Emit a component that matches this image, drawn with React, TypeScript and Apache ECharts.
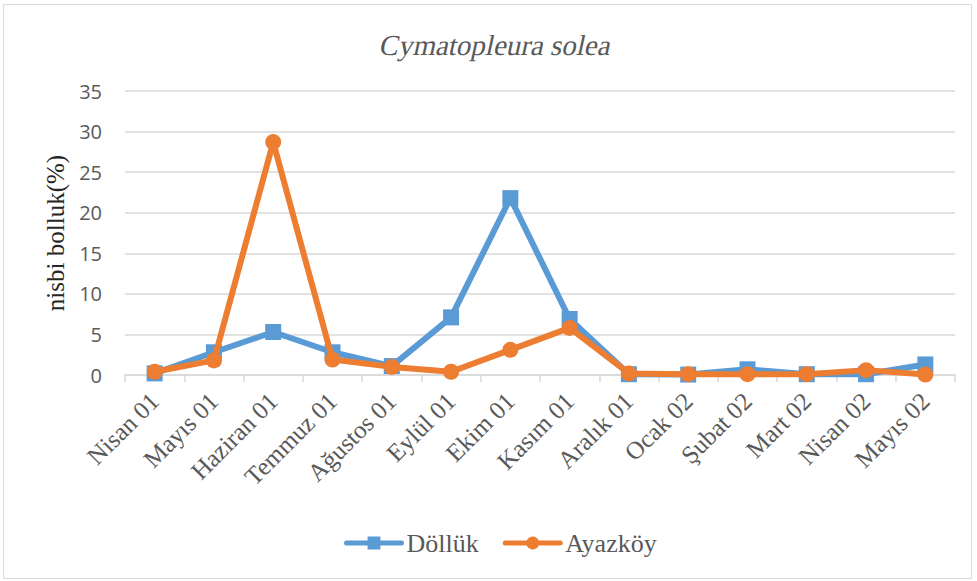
import React, { useEffect, useRef } from "react";
import * as echarts from "echarts";

const categories = [
  "Nisan 01", "Mayıs 01", "Haziran 01", "Temmuz 01", "Ağustos 01", "Eylül 01", "Ekim 01",
  "Kasım 01", "Aralık 01", "Ocak 02", "Şubat 02", "Mart 02", "Nisan 02", "Mayıs 02",
];
const dollukValues = [0.2, 2.8, 5.3, 2.8, 1.1, 7.1, 21.8, 6.9, 0.1, 0.05, 0.7, 0.1, 0.1, 1.3];
const ayazkoyValues = [0.4, 1.8, 28.7, 1.9, 1.0, 0.4, 3.1, 5.8, 0.2, 0.1, 0.1, 0.1, 0.6, 0.05];
const seriesNames = ["Döllük", "Ayazköy"];
const chartTitle = "Cymatopleura solea";
const yTicks = { min: 0, max: 35, interval: 5 };

// decompose an italic shear into rotation * scale * rotation (zrender has no skew in graphic)
function shearParts(k: number) {
  const m00 = 1, m01 = -k, m10 = 0, m11 = 1;
  const E = (m00 + m11) / 2, F = (m00 - m11) / 2, G = (m10 + m01) / 2, H = (m10 - m01) / 2;
  const Q = Math.sqrt(E * E + H * H), R = Math.sqrt(F * F + G * G);
  const a1 = Math.atan2(G, F), a2 = Math.atan2(H, E);
  const theta = (a2 - a1) / 2, phi = (a2 + a1) / 2;
  return { sx: Q + R, sy: Q - R, outerRot: -phi, innerRot: -theta };
}

export default function App() {
  const ref = useRef<HTMLDivElement>(null);
  useEffect(() => {
    document.body.style.margin = "0";
    const chart = echarts.init(ref.current!, null, { renderer: "svg" });
    const serif = "Liberation Serif, serif";
    const sh = shearParts(0.22);
    chart.setOption({
      animation: false,
      backgroundColor: "#ffffff",
      graphic: [
        {
          type: "rect",
          shape: { x: 3.5, y: 4.5, width: 968, height: 574 },
          style: { fill: "none", stroke: "#d9d9d9", lineWidth: 1 },
          silent: true,
        },
        {
          type: "group",
          x: 496,
          y: 45,
          rotation: sh.outerRot,
          scaleX: sh.sx,
          scaleY: sh.sy,
          silent: true,
          children: [
            {
              type: "text",
              x: 0,
              y: 0,
              rotation: sh.innerRot,
              style: {
                text: chartTitle,
                fontFamily: serif,
                fontSize: 29,
                fill: "#595959",
                align: "center",
                verticalAlign: "middle",
              },
              silent: true,
            },
          ],
        },
      ],
      legend: {
        top: 525,
        left: 339,
        itemWidth: 55,
        itemHeight: 16,
        itemGap: 24,
        lineStyle: { width: 5, cap: "round" },
        textStyle: { fontFamily: serif, fontSize: 26, color: "#595959" },
        data: seriesNames,
      },
      grid: { left: 125, right: 22, top: 91, bottom: 206, containLabel: false },
      xAxis: {
        type: "category",
        data: categories,
        boundaryGap: true,
        axisLine: { lineStyle: { color: "#d9d9d9", width: 1.5 } },
        axisTick: { show: true, length: 7, lineStyle: { color: "#d9d9d9", width: 1.5 } },
        axisLabel: {
          rotate: 45,
          interval: 0,
          margin: 22,
          fontFamily: serif,
          fontSize: 25,
          color: "#595959",
        },
      },
      yAxis: {
        type: "value",
        min: yTicks.min,
        max: yTicks.max,
        interval: yTicks.interval,
        name: "nisbi bolluk(%)",
        nameLocation: "middle",
        nameGap: 54,
        nameTextStyle: { fontFamily: serif, fontSize: 25, color: "#262626" },
        axisLine: { show: false },
        axisTick: { show: false },
        axisLabel: { fontFamily: "Open Sans, sans-serif", fontSize: 20, color: "#595959", margin: 23 },
        splitLine: { lineStyle: { color: "#d9d9d9", width: 1.5 } },
      },
      series: [
        {
          name: seriesNames[0],
          type: "line",
          data: dollukValues,
          symbol: "rect",
          symbolSize: 16,
          lineStyle: { width: 6, color: "#5B9BD5" },
          itemStyle: { color: "#5B9BD5" },
          z: 2,
        },
        {
          name: seriesNames[1],
          type: "line",
          data: ayazkoyValues,
          symbol: "circle",
          symbolSize: 16,
          lineStyle: { width: 6, color: "#ED7D31" },
          itemStyle: { color: "#ED7D31" },
          z: 3,
        },
      ],
    });
    return () => chart.dispose();
  }, []);
  return <div ref={ref} style={{ position: "absolute", left: 0, top: 0, width: 977, height: 581 }} />;
}
